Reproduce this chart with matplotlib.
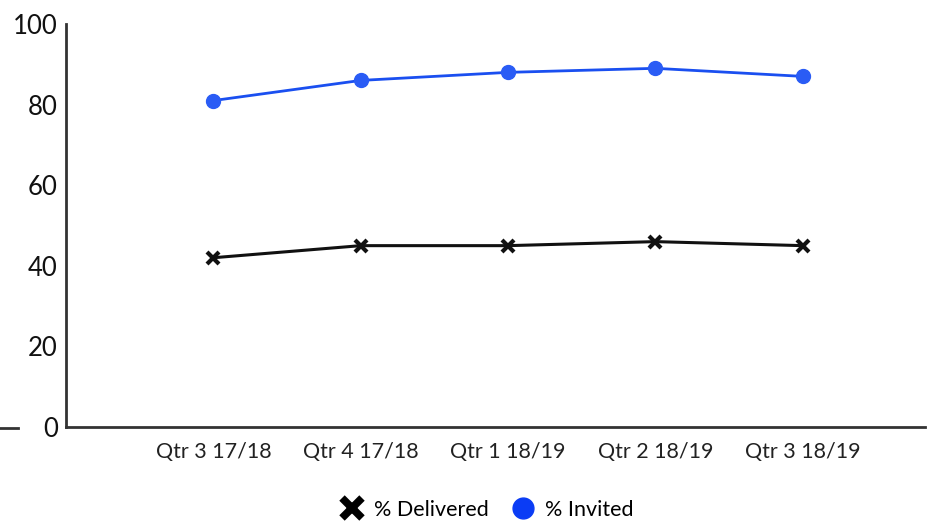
import matplotlib
matplotlib.use("Agg")
import matplotlib.pyplot as plt
from matplotlib.lines import Line2D

categories = ["Qtr 3 17/18", "Qtr 4 17/18", "Qtr 1 18/19", "Qtr 2 18/19", "Qtr 3 18/19"]
delivered = [42, 45, 45, 46, 45]
invited = [81, 86, 88, 89, 87]
yticks = [0, 20, 40, 60, 80, 100]

plt.rcParams['font.family'] = ['Lato', 'DejaVu Sans']

fig = plt.figure(figsize=(9.33, 5.24), dpi=100)
ax = fig.add_axes([66/933, 1-427/524, (925-66)/933, (427-24)/524])

x = list(range(len(categories)))
ax.plot(x, invited, color="#1a4ff0", lw=2.0, marker="o", ms=10, mec="#2a5cf5", mfc="#2a5cf5", zorder=3)
ax.plot(x, delivered, color="#111111", lw=2.2, marker="x", ms=9, mew=3, zorder=3)

ax.set_xlim(-1, 4.83)
ax.set_ylim(0, 100)
ax.set_yticks(yticks)
ax.set_yticklabels([str(v) for v in yticks], fontsize=18.5, color="#111111")
ax.set_xticks(x)
ax.set_xticklabels(categories, fontsize=15.5, color="#222222")
ax.tick_params(length=0)
ax.tick_params(axis='y', pad=6)
ax.tick_params(axis='x', pad=11)
for s in ["top", "right"]:
    ax.spines[s].set_visible(False)
for s in ["left", "bottom"]:
    ax.spines[s].set_color("#333333")
    ax.spines[s].set_linewidth(2)

fig.add_artist(Line2D([0/933, 18/933], [1-428/524, 1-428/524], color="#333333", lw=2))

handles = [
    Line2D([], [], color="black", marker="x", ms=14, mew=5.5, ls="none"),
    Line2D([], [], color="#0a3cf5", marker="o", ms=15, ls="none"),
]
fig.legend(handles, ["% Delivered", "% Invited"], loc="center", bbox_to_anchor=(482/933, 1-510/524),
           ncol=2, frameon=False, fontsize=15.5, handletextpad=0.0, columnspacing=0.6)

fig.savefig("out.png", dpi=100)
